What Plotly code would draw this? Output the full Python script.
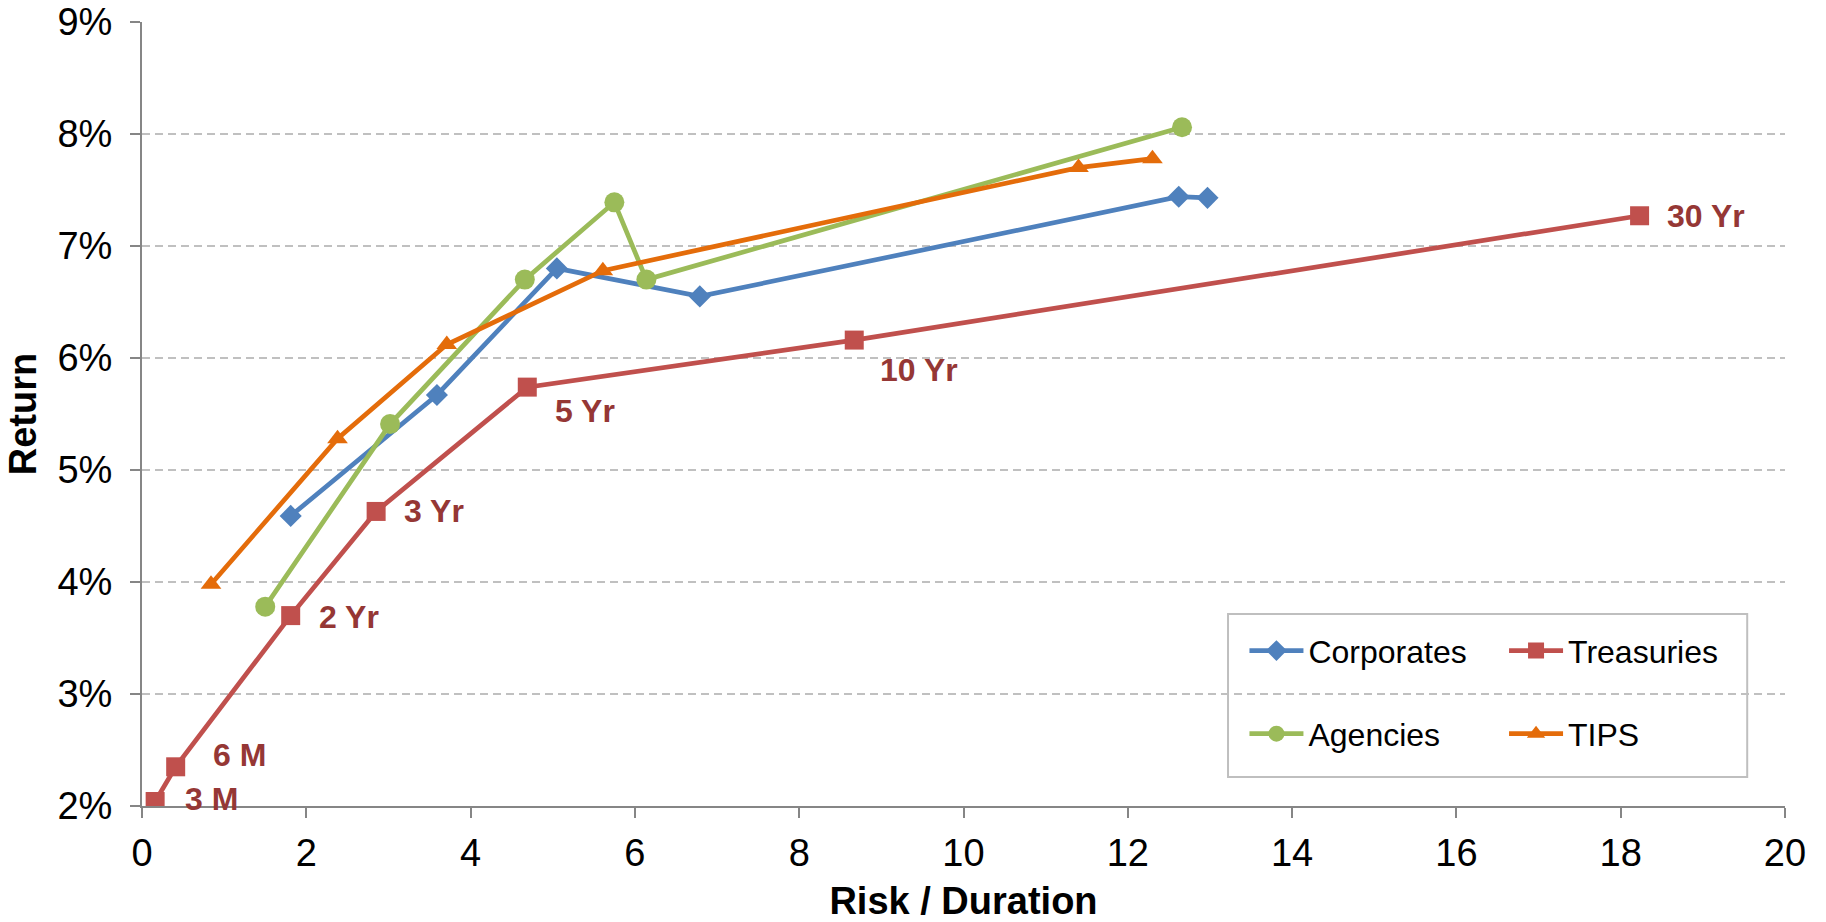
import plotly.graph_objects as go

# Risk (duration) vs. return by sector
corp_dur = [1.81, 3.59, 5.05, 6.79, 12.62, 12.97]
corp_ret = [4.59, 5.67, 6.80, 6.55, 7.44, 7.43]

treas_dur = [0.16, 0.41, 1.81, 2.85, 4.69, 8.67, 18.23]
treas_ret = [2.04, 2.35, 3.70, 4.63, 5.74, 6.16, 7.27]
treas_labels = ["3 M", "6 M", "2 Yr", "3 Yr", "5 Yr", "10 Yr", "30 Yr"]

agency_dur = [1.50, 3.02, 4.66, 5.75, 6.14, 12.66]
agency_ret = [3.78, 5.41, 6.70, 7.39, 6.70, 8.06]

tips_dur = [0.84, 2.38, 3.71, 5.61, 11.40, 12.30]
tips_ret = [3.98, 5.28, 6.12, 6.78, 7.70, 7.78]

x_ticks = list(range(0, 21, 2))
y_ticks = list(range(2, 10))
y_tick_text = [f"{v}%" for v in y_ticks]

FONT = "Arial, Liberation Sans, sans-serif"
C_CORP = "#4F81BD"
C_TREAS = "#C0504D"
C_AGENCY = "#9BBB59"
C_TIPS = "#E46C0A"
C_LABEL = "#953735"
LW = 4.7

fig = go.Figure()

fig.add_trace(go.Scatter(
    x=corp_dur, y=corp_ret, name="Corporates", mode="lines+markers",
    line=dict(color=C_CORP, width=LW),
    marker=dict(symbol="diamond", size=17, color=C_CORP),
    legend="legend2",
))
fig.add_trace(go.Scatter(
    x=treas_dur, y=treas_ret, name="Treasuries", mode="lines+markers",
    line=dict(color=C_TREAS, width=LW),
    marker=dict(symbol="square", size=19, color=C_TREAS),
    legend="legend3",
))
fig.add_trace(go.Scatter(
    x=agency_dur, y=agency_ret, name="Agencies", mode="lines+markers",
    line=dict(color=C_AGENCY, width=LW),
    marker=dict(symbol="circle", size=20, color=C_AGENCY),
    legend="legend4",
))
fig.add_trace(go.Scatter(
    x=tips_dur, y=tips_ret, name="TIPS", mode="lines+markers",
    line=dict(color=C_TIPS, width=LW),
    marker=dict(symbol="triangle-up", size=18, color=C_TIPS),
    legend="legend5",
))

# Maturity labels beside the Treasury points (pixel offsets from each point)
label_offsets = [(28, 3), (35, 12), (26, -1), (26, 0), (26, -24), (24, -30), (25, 0)]
for xv, yv, txt, (dx, dy) in zip(treas_dur, treas_ret, treas_labels, label_offsets):
    fig.add_annotation(
        x=xv, y=yv, text=txt, showarrow=False,
        xanchor="left", yanchor="middle", xshift=dx, yshift=dy,
        font=dict(family=FONT, size=32, color=C_LABEL, weight="bold"),
    )

axis_common = dict(
    showline=True, linecolor="#868686", linewidth=2,
    ticks="outside", ticklen=10, tickwidth=2, tickcolor="#868686",
    tickfont=dict(family=FONT, size=38, color="#000000"),
    zeroline=False, automargin=False,
)

fig.update_xaxes(
    range=[0, 20], tickvals=x_ticks, showgrid=False, ticklabelstandoff=2,
    title=dict(text="<b>Risk / Duration</b>", font=dict(family=FONT, size=38, color="#000000"), standoff=20),
    **axis_common,
)
fig.update_yaxes(
    range=[2, 9], tickvals=y_ticks, ticktext=y_tick_text, ticklabelstandoff=10,
    showgrid=True, gridcolor="#C0C0C0", gridwidth=2, griddash="8px,5px",
    title=dict(text="<b>Return</b>", font=dict(family=FONT, size=38, color="#000000"), standoff=9),
    **axis_common,
)

legend_font = dict(family=FONT, size=32, color="#000000")
leg_common = dict(font=legend_font, bgcolor="rgba(0,0,0,0)", borderwidth=0,
                  xanchor="left", yanchor="middle", itemwidth=54)

fig.update_layout(
    width=1826, height=922,
    margin=dict(l=142, r=41, t=22, b=116),
    paper_bgcolor="white", plot_bgcolor="white",
    font=dict(family=FONT),
    legend2=dict(x=0.671, y=0.198, **leg_common),
    legend3=dict(x=0.829, y=0.198, **leg_common),
    legend4=dict(x=0.671, y=0.092, **leg_common),
    legend5=dict(x=0.829, y=0.092, **leg_common),
    shapes=[dict(
        type="rect", xref="paper", yref="paper",
        x0=0.661, x1=0.977, y0=0.037, y1=0.245,
        line=dict(color="#BFBFBF", width=2), fillcolor="white", layer="below",
    )],
)

fig.write_html("out.html")
